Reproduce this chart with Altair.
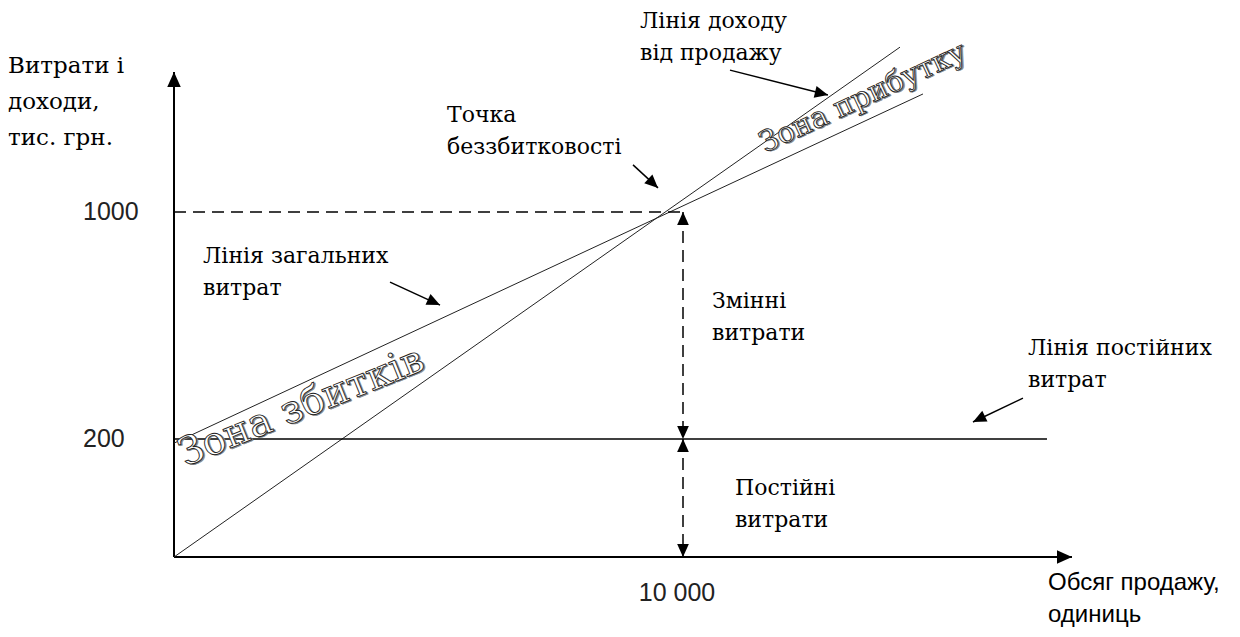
import altair as alt
import pandas as pd

# ---------------- data (volume in units, value in thousand UAH) ----------------
x_axis_end = 17642
y_axis_end = 1493

revenue_volume = [0, 14263]
revenue_value = [0, 1581]
total_cost_volume = [0, 14715]
total_cost_value = [193, 1416]
fixed_cost_volume = [0, 17151]
fixed_cost_value = [200, 200]
break_even_volume = 10000
break_even_value = 1000

y_ticks = [1000, 200]
y_tick_labels = ["1000", "200"]
y_tick_dy = [8, 14]
x_ticks = [10000]
x_tick_labels = ["10 000"]

ann_text = ["Лінія доходу\nвід продажу", "Точка\nбеззбитковості",
            "Лінія загальних\nвитрат", "Змінні\nвитрати", "Постійні\nвитрати",
            "Лінія постійних\nвитрат"]
ann_x = [9155, 5363, 570, 10570, 11021, 16778]
ann_y = [1648, 1317, 820, 662, 105, 496]

y_title = "Витрати і\nдоходи,\nтис. грн."
y_title_pos = (-3261, 1490)
x_title = "Обсяг продажу,\nодиниць"
x_title_pos = (17171, -56)

arrow_x_from = [10923, 9018, 4244, 16679]
arrow_y_from = [1500, 1166, 753, 344]
arrow_x_to = [12848, 9509, 5226, 15697]
arrow_y_to = [1412, 1085, 672, 260]
arrow_angle = [104, 133, 115, 244]

zone_text = ["Зона прибутку", "Зона збитків"]
zone_x = [11611, 216]
zone_y = [1208, 153]
zone_angle = [335, 338]
zone_size = [29, 39]

# ---------------- scales ----------------
xs = alt.Scale(domain=[0, 10000], range=[166, 675], nice=False, zero=False)
ys = alt.Scale(domain=[0, 200, 1000], range=[549, 431, 204], nice=False, zero=False)


def X(f):
    return alt.X(f, type="quantitative", scale=xs, axis=None)


def Y(f):
    return alt.Y(f, type="quantitative", scale=ys, axis=None)


SERIF = "DejaVu Serif"
WIDE_SERIF = "DejaVu Serif"
SANS = "Liberation Sans"
HEAD = "M0,0L-0.45,1L0.45,1Z"

axes_df = pd.DataFrame({"x": [0, 0], "y": [0, 0], "x2": [0, x_axis_end], "y2": [y_axis_end, 0]})
axes = alt.Chart(axes_df).mark_rule(color="black", strokeWidth=2).encode(
    x=X("x"), y=Y("y"), x2="x2", y2="y2")

thin_df = pd.DataFrame({
    "x": [revenue_volume[0], total_cost_volume[0]],
    "y": [revenue_value[0], total_cost_value[0]],
    "x2": [revenue_volume[1], total_cost_volume[1]],
    "y2": [revenue_value[1], total_cost_value[1]],
})
thin = alt.Chart(thin_df).mark_rule(color="#222", strokeWidth=1).encode(
    x=X("x"), y=Y("y"), x2="x2", y2="y2")

fixed_df = pd.DataFrame({"x": [fixed_cost_volume[0]], "y": [fixed_cost_value[0]],
                         "x2": [fixed_cost_volume[1]], "y2": [fixed_cost_value[1]]})
fixed = alt.Chart(fixed_df).mark_rule(color="black", strokeWidth=1.5).encode(
    x=X("x"), y=Y("y"), x2="x2", y2="y2")

dashed_df = pd.DataFrame({
    "x": [0, break_even_volume, break_even_volume],
    "y": [break_even_value, break_even_value, fixed_cost_value[0]],
    "x2": [break_even_volume, break_even_volume, break_even_volume],
    "y2": [break_even_value, fixed_cost_value[0], 0],
})
dashed = alt.Chart(dashed_df).mark_rule(color="black", strokeWidth=1.5, strokeDash=[12, 7]).encode(
    x=X("x"), y=Y("y"), x2="x2", y2="y2")

arr_df = pd.DataFrame({"x": arrow_x_from, "y": arrow_y_from, "x2": arrow_x_to, "y2": arrow_y_to})
arrows = alt.Chart(arr_df).mark_rule(color="black", strokeWidth=1.5).encode(
    x=X("x"), y=Y("y"), x2="x2", y2="y2")

heads_df = pd.DataFrame({
    "x": arrow_x_to + [0, x_axis_end, break_even_volume, break_even_volume,
                       break_even_volume, break_even_volume],
    "y": arrow_y_to + [y_axis_end, 0, break_even_value, fixed_cost_value[0],
                       fixed_cost_value[0], 0],
    "angle": arrow_angle + [0, 90, 0, 180, 0, 180],
    "size": [700] * 4 + [900, 900, 676, 676, 676, 676],
})
heads = alt.Chart(heads_df).mark_point(shape=HEAD, filled=True, color="black",
                                        opacity=1, strokeWidth=0).encode(
    x=X("x"), y=Y("y"),
    angle=alt.Angle("angle:Q", scale=None),
    size=alt.Size("size:Q", scale=None),
)

ann_df = pd.DataFrame({"x": ann_x, "y": ann_y, "t": ann_text})
ann = alt.Chart(ann_df).mark_text(font=SERIF, fontSize=22, align="left", baseline="alphabetic",
                                  lineBreak="\n", lineHeight=32, color="black").encode(
    x=X("x"), y=Y("y"), text="t:N")

yt_df = pd.DataFrame({"x": [y_title_pos[0]], "y": [y_title_pos[1]], "t": [y_title]})
ytitle = alt.Chart(yt_df).mark_text(font=SERIF, fontSize=23, align="left", baseline="alphabetic",
                                    lineBreak="\n", lineHeight=36, color="black").encode(
    x=X("x"), y=Y("y"), text="t:N")

xt_df = pd.DataFrame({"x": [x_title_pos[0]], "y": [x_title_pos[1]], "t": [x_title]})
xtitle = alt.Chart(xt_df).mark_text(font=SANS, fontSize=24, align="left", baseline="alphabetic",
                                    lineBreak="\n", lineHeight=32, color="black").encode(
    x=X("x"), y=Y("y"), text="t:N")

ytick_df = pd.DataFrame({"y": y_ticks, "t": y_tick_labels, "dy": y_tick_dy})
yticks = alt.Chart(ytick_df).mark_text(font=SANS, fontSize=25, align="left", baseline="middle",
                                       color="#222").encode(
    x=alt.value(75), y=Y("y"), yOffset=alt.YOffset("dy:Q", scale=None), text="t:N")

xtick_df = pd.DataFrame({"x": x_ticks, "y": [0] * len(x_ticks), "t": x_tick_labels})
xticks = alt.Chart(xtick_df).mark_text(font=SANS, fontSize=25, align="center", baseline="middle",
                                       color="#222", dx=-6, dy=36).encode(
    x=X("x"), y=Y("y"), text="t:N")

zone_df = pd.DataFrame({"x": zone_x, "y": zone_y, "t": zone_text, "a": zone_angle, "s": zone_size})
zone_shadow = alt.Chart(zone_df).mark_text(font=WIDE_SERIF, align="left", baseline="alphabetic",
                                           fill="#888888", stroke="#888888", strokeWidth=0.6,
                                           dx=1.2, dy=1.2).encode(
    x=X("x"), y=Y("y"), text="t:N",
    angle=alt.Angle("a:Q", scale=None), size=alt.Size("s:Q", scale=None))
zones = alt.Chart(zone_df).mark_text(font=WIDE_SERIF, align="left", baseline="alphabetic",
                                     fill="#ffffff", stroke="#222222", strokeWidth=0.9).encode(
    x=X("x"), y=Y("y"), text="t:N",
    angle=alt.Angle("a:Q", scale=None), size=alt.Size("s:Q", scale=None))

chart = alt.layer(axes, thin, fixed, dashed, arrows, heads, ann, ytitle, xtitle,
                  yticks, xticks, zone_shadow, zones).properties(
    width=1224, height=621, padding=0, autosize=alt.AutoSizeParams(type="none")
).configure_view(stroke=None)

chart.save("out.html", embed_options={"renderer": "svg", "actions": False})
